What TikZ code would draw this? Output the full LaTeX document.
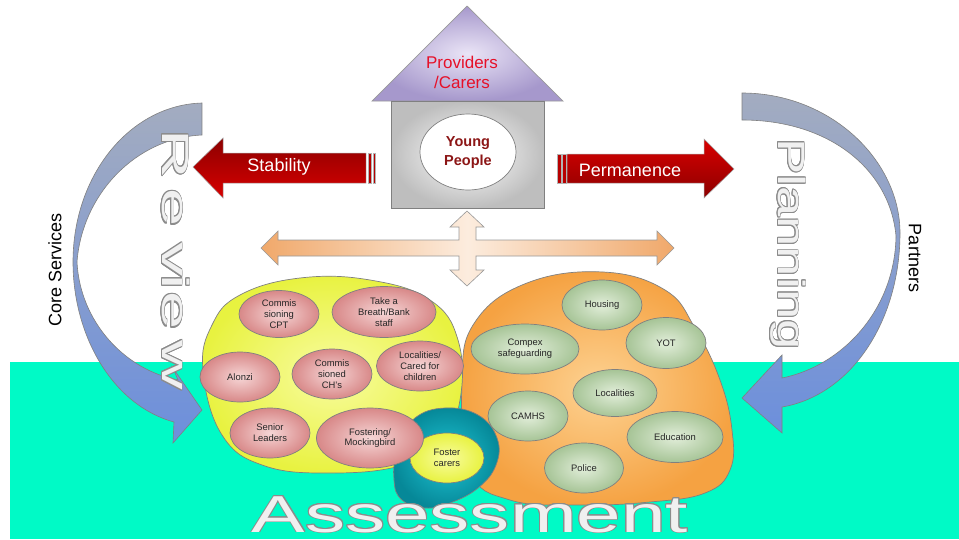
\documentclass[tikz,border=0pt]{standalone}
\usepackage{fontspec}
\setmainfont{Liberation Sans}
\usepackage{contour}
\contourlength{0.65pt}
\usetikzlibrary{shapes.geometric}

\definecolor{sea}{RGB}{0,250,198}
\definecolor{roofin}{RGB}{234,228,246}
\definecolor{roofout}{RGB}{166,152,204}
\definecolor{wallout}{RGB}{190,190,190}
\definecolor{provred}{RGB}{230,16,40}
\definecolor{youngred}{RGB}{140,22,22}
\definecolor{arrdark}{RGB}{140,0,0}
\definecolor{arrbright}{RGB}{216,0,0}
\definecolor{crossend}{RGB}{240,168,106}
\definecolor{crossmid}{RGB}{252,236,222}
\definecolor{bandtop}{RGB}{163,172,192}
\definecolor{bandmid}{RGB}{182,202,242}
\definecolor{bandbot}{RGB}{108,143,220}
\definecolor{yelin}{RGB}{248,252,160}
\definecolor{yelout}{RGB}{232,242,64}
\definecolor{orgin}{RGB}{253,210,146}
\definecolor{orgout}{RGB}{245,162,66}
\definecolor{tealin}{RGB}{30,196,212}
\definecolor{tealout}{RGB}{6,136,152}
\definecolor{pinkin}{RGB}{246,214,214}
\definecolor{pinkout}{RGB}{216,136,136}
\definecolor{grnin}{RGB}{226,238,218}
\definecolor{grnout}{RGB}{166,196,150}
\definecolor{edgegray}{RGB}{128,128,128}
\definecolor{letterfill}{RGB}{240,240,240}
\definecolor{letteredge}{RGB}{140,140,140}

\tikzset{
  member/.style={ellipse, draw=edgegray, line width=0.7pt, inner sep=0pt,
    align=center, font=\fontsize{9.4}{10.8}\selectfont, text=black!85},
  pinkmember/.style={member, inner color=pinkin, outer color=pinkout},
  greenmember/.style={member, inner color=grnin, outer color=grnout},
  blob/.style={draw=edgegray, line width=0.7pt},
  redarrow/.style={draw=edgegray!70, line width=0.5pt},
  stripe/.style={fill=arrbright!85!black, draw=edgegray!60, line width=0.4pt},
  bandarrow/.style={draw=edgegray, line width=0.6pt, top color=bandtop,
    middle color=bandmid, bottom color=bandbot},
  hollow/.style={inner sep=0pt, text=letterfill},
  sidelabel/.style={font=\fontsize{18}{20}\selectfont, inner sep=0pt}
}

\newcommand{\hollowtext}[1]{\contour{letteredge}{#1}}

\begin{document}
\begin{tikzpicture}[x=1pt,y=-1pt]
\useasboundingbox (0,0) rectangle (959,539);
\fill[white] (0,0) rectangle (959,539);
% ground strip
\fill[sea] (10,362) rectangle (959,539);

% curved arrow on the left
\path[bandarrow]
  (202,103) .. controls (130,105) and (73,175) .. (73,262)
  .. controls (73,335) and (112,405) .. (174,422)
  -- (173,443) -- (202,410) -- (173,368) -- (178,380)
  .. controls (125,370) and (80,322) .. (77,262)
  .. controls (82,195) and (135,138) .. (202,135) -- cycle;

% curved arrow on the right
\path[bandarrow]
  (742,93) .. controls (830,93) and (900,160) .. (900,233)
  .. controls (900,320) and (852,395) .. (782,407)
  -- (782,433) -- (742,398) -- (782,355) -- (782,378)
  .. controls (842,366) and (895,310) .. (896,236)
  .. controls (890,170) and (830,120) .. (742,120) -- cycle;

% Review, spelled letter by letter
\foreach \ch/\yy in {R/154, e/208, v/260, i/282, e/311, w/365}
  \node[hollow, rotate=-90, xscale=1.8, anchor=base,
        font=\fontsize{38}{40}\selectfont] (rv-\yy) at (162,\yy) {\hollowtext{\ch}};

\node[hollow, rotate=-90, xscale=1.43, anchor=base,
      font=\fontsize{38}{40}\selectfont] (planning) at (778,244) {\hollowtext{Planning}};

\node[sidelabel, rotate=90] (core) at (55,270) {Core Services};
\node[sidelabel, rotate=-90] (partners) at (915,258) {Partners};

% the house
\path[draw=edgegray!80, line width=0.7pt, inner color=roofin, outer color=roofout]
  (372,101) -- (467,6) -- (563,101) -- cycle;
\path[draw=edgegray, line width=0.7pt, inner color=white, outer color=wallout]
  (391,101) rectangle (544,208);
\node[font=\fontsize{17}{20}\selectfont, text=provred, align=center] (providers)
  at (462,72) {Providers\\/Carers};
\node[ellipse, draw=edgegray, line width=0.7pt, fill=white,
      minimum width=96pt, minimum height=76pt] (young) at (468,152) {};
\node[font=\bfseries\fontsize{14.5}{19}\selectfont, text=youngred, align=center]
  (youngtext) at (468,153) {Young\\People};

% Stability arrow
\path[redarrow, top color=arrdark, bottom color=arrbright]
  (193,167) -- (223,138) -- (223,153) -- (366,153) -- (366,183)
  -- (223,183) -- (223,198) -- cycle;
\draw[stripe] (367.8,153) rectangle (371.4,183);
\draw[stripe] (372.8,153) rectangle (375.6,183);
\node[font=\fontsize{18}{20}\selectfont, text=white] (stability) at (279,167) {Stability};

% Permanence arrow
\draw[stripe] (557.6,154) rectangle (560.8,183);
\draw[stripe] (562.4,154) rectangle (566,183);
\path[redarrow, top color=arrbright, bottom color=arrdark]
  (567,154) -- (704,154) -- (704,139) -- (734,169) -- (704,198)
  -- (704,183) -- (567,183) -- cycle;
\node[font=\fontsize{18}{20}\selectfont, text=white] (permanence) at (630,170) {Permanence};

% four-way arrow
\path[draw=edgegray!80, line width=0.6pt, left color=crossend, right color=crossend,
      middle color=crossmid]
  (261,248) -- (278,231) -- (278,240) -- (459,240) -- (459,227) -- (450,227)
  -- (467,211) -- (484,227) -- (476,227) -- (476,240) -- (657,240) -- (657,231)
  -- (674,248) -- (657,265) -- (657,256) -- (476,256) -- (476,270) -- (484,270)
  -- (467,286) -- (450,270) -- (459,270) -- (459,256) -- (278,256) -- (278,265)
  -- cycle;

% partner group
\path[blob, inner color=orgin, outer color=orgout]
  plot[smooth cycle, tension=0.7] coordinates {
    (462,380) (475,322) (527,283) (603,272) (665,290) (695,328) (720,380)
    (732,430) (730,470) (705,493) (650,502) (580,505) (510,500) (470,470)};

% core services group
\path[blob, inner color=yelin, outer color=yelout]
  plot[smooth cycle, tension=0.7] coordinates {
    (203,370) (212,325) (240,295) (300,278) (370,280) (430,300) (458,340)
    (460,400) (440,445) (400,466) (333,473) (265,466) (222,435)};

% foster carers group
\path[blob, inner color=tealin, outer color=tealout]
  plot[smooth cycle, tension=0.7] coordinates {
    (394,480) (398,445) (415,418) (445,408) (478,415) (497,438) (496,465)
    (478,488) (450,503) (425,508) (402,500)};

\node[member, inner color=yelin, outer color=yelout, minimum width=74pt,
      minimum height=50pt] (foster) at (447,458) {Foster\\carers};

% core services members
\node[pinkmember, minimum width=80pt, minimum height=47pt] (cpt) at (279,314) {Commis\\sioning\\CPT};
\node[pinkmember, minimum width=104pt, minimum height=51pt] (breath) at (384,312) {Take a\\Breath/Bank\\staff};
\node[pinkmember, minimum width=80pt, minimum height=50pt] (alonzi) at (240,377) {Alonzi};
\node[pinkmember, minimum width=80pt, minimum height=50pt] (chs) at (332,374) {Commis\\sioned\\CH's};
\node[pinkmember, minimum width=87pt, minimum height=50pt] (cared) at (420,366) {Localities/\\Cared for\\children};
\node[pinkmember, minimum width=80pt, minimum height=50pt] (senior) at (270,433) {Senior\\Leaders};
\node[pinkmember, minimum width=107pt, minimum height=60pt] (mocking) at (370,438) {Fostering/\\Mockingbird};

% partner members
\node[greenmember, minimum width=80pt, minimum height=50pt] (housing) at (602,305) {Housing};
\node[greenmember, minimum width=108pt, minimum height=50pt] (compex) at (525,349) {Compex\\safeguarding};
\node[greenmember, minimum width=80pt, minimum height=51pt] (yot) at (666,343) {YOT};
\node[greenmember, minimum width=84pt, minimum height=47pt] (localities) at (615,393) {Localities};
\node[greenmember, minimum width=80pt, minimum height=50pt] (camhs) at (528,416) {CAMHS};
\node[greenmember, minimum width=96pt, minimum height=51pt] (education) at (675,437) {Education};
\node[greenmember, minimum width=79pt, minimum height=50pt] (police) at (584,468) {Police};

% Assessment
\node[hollow, xscale=1.54, anchor=base, font=\fontsize{52}{56}\selectfont]
  (assessment) at (470,532) {\hollowtext{Assessment}};
\end{tikzpicture}
\end{document}
